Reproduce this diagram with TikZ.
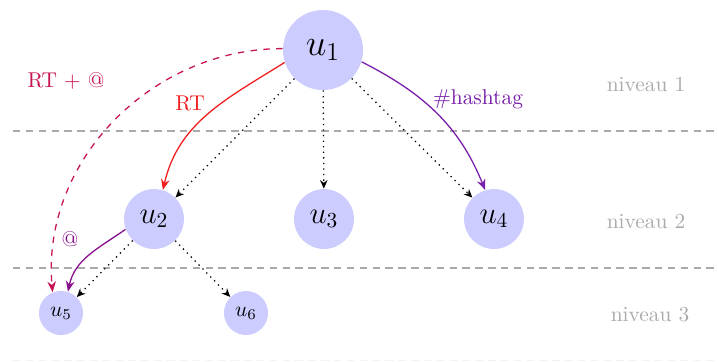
\documentclass[tikz,border=0pt]{standalone}
\usetikzlibrary{arrows.meta}
\definecolor{nodefill}{RGB}{204,204,255}
\definecolor{rtred}{RGB}{240,30,30}
\definecolor{rtat}{RGB}{200,20,85}
\definecolor{hashviolet}{RGB}{120,30,170}
\definecolor{atpurple}{RGB}{135,15,140}
\definecolor{levelgray}{RGB}{170,170,170}
\begin{document}
\begin{tikzpicture}[x=0.4673pt,y=-0.4673pt,
  user/.style={circle,fill=nodefill,inner sep=0pt},
  big/.style={user,minimum size=37.4pt,font=\LARGE},
  mid/.style={user,minimum size=28pt,font=\Large},
  small/.style={user,minimum size=20.6pt,font=\normalsize},
  follow/.style={dotted,-{Stealth[length=4pt,width=3.5pt]},line width=0.6pt},
  flow/.style={-{Stealth[length=5pt,width=4pt]},line width=0.6pt},
  levelsep/.style={levelgray,dash pattern=on 3.5pt off 2.5pt,line width=0.5pt},
  leveltxt/.style={text=levelgray}]
\useasboundingbox (0,0) rectangle (718,361);

% level separators
\draw[levelsep] (13,131) -- (718,131);
\draw[levelsep] (13,268) -- (718,268);
\draw[levelsep,draw=gray!10] (13,360.5) -- (718,360.5);

% users
\node[big] (u1) at (323,50) {$u_1$};
\node[mid] (u2) at (154,219) {$u_2$};
\node[mid] (u3) at (324,219) {$u_3$};
\node[mid] (u4) at (494,219) {$u_4$};
\node[small] (u5) at (61,313) {$u_5$};
\node[small] (u6) at (246,313) {$u_6$};

% level names
\node[leveltxt] (n1) at (646,84) {niveau 1};
\node[leveltxt] (n2) at (646,221) {niveau 2};
\node[leveltxt] (n3) at (650,315) {niveau 3};

% follower links
\draw[follow] (u1) -- (u2);
\draw[follow] (u1) -- (u3);
\draw[follow] (u1) -- (u4);
\draw[follow] (u2) -- (u5);
\draw[follow] (u2) -- (u6);

% propagation links
\draw[flow,rtred] (u1.198) to[out=212,in=77] (u2.73);
\draw[flow,hashviolet] (u1.-17) to[out=-27,in=112] (u4.107);
\draw[flow,rtat,dashed] (u1.178) to[out=180,in=95] (u5.112);
\draw[flow,atpurple] (u2.200) to[out=215,in=78] (u5.72);

% link labels
\node[text=rtred] (lrt) at (190,103) {RT};
\node[text=hashviolet] (lhash) at (478,99) {\#hashtag};
\node[text=rtat] (lrtat) at (66,81) {RT + @};
\node[text=atpurple] (lat) at (70,239) {@};
\end{tikzpicture}
\end{document}
